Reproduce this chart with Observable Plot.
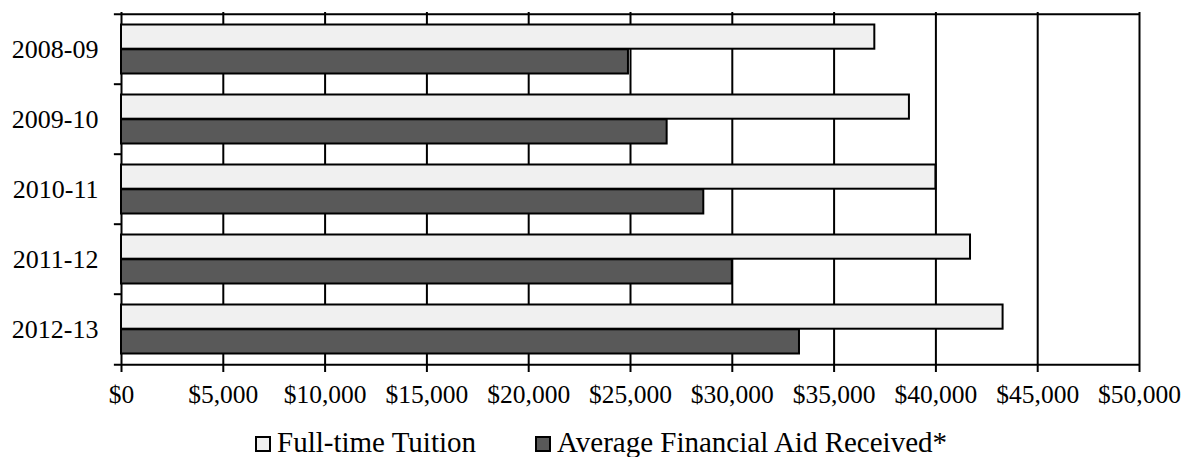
<!DOCTYPE html>
<html>
<head>
<meta charset="utf-8">
<script src="https://cdn.jsdelivr.net/npm/d3@7"></script>
<script src="https://cdn.jsdelivr.net/npm/@observablehq/plot@0.6"></script>
<style>
  html, body { margin: 0; padding: 0; background: #fff; }
  body { width: 1189px; height: 457px; overflow: hidden; }
</style>
</head>
<body>
<div id="chart"></div>
<div id="legend" style="position:absolute;left:0;top:427px;width:1189px;height:30px;"></div>
<script>
const years = ["2008-09", "2009-10", "2010-11", "2011-12", "2012-13"];
const tuition = [37000, 38700, 40000, 41700, 43300];
const aid = [24900, 26800, 28600, 30000, 33300];
const xTicks = [0, 5000, 10000, 15000, 20000, 25000, 30000, 35000, 40000, 45000, 50000];
const seriesNames = ["Full-time Tuition", "Average Financial Aid Received*"];
const seriesColors = ["#f0f0f0", "#595959"];

const W = 1189, H = 415, mT = 12, mB = 50, mL = 121, mR = 50;
const bw = (H - mT - mB) / years.length;
const padOuter = 10.5;
const FONT = "'Liberation Serif', 'Times New Roman', serif";

const tuitionData = years.map((y, i) => ({year: y, value: tuition[i]}));
const aidData = years.map((y, i) => ({year: y, value: aid[i]}));
const fmt = d => "$" + d3.format(",")(d);

const chart = Plot.plot({
  width: W, height: H,
  marginTop: mT, marginBottom: mB, marginLeft: mL, marginRight: mR,
  style: {fontSize: "25px", color: "#000", background: "#fff"},
  x: {domain: [0, 50000]},
  y: {domain: years, padding: 0},
  marks: [
    Plot.ruleX(xTicks, {stroke: "#000", strokeWidth: 2}),
    Plot.ruleY(years, {y: d => d, dy: -bw / 2, x1: -350, x2: d => d === years[0] ? 50000 : 0, stroke: "#000", strokeWidth: 2}),
    Plot.ruleY([years[years.length - 1]], {y: d => d, dy: bw / 2, x1: -350, x2: 50000, stroke: "#000", strokeWidth: 2}),
    Plot.barX(tuitionData, {y: "year", x: "value", fill: seriesColors[0], stroke: "#000", strokeWidth: 2, insetTop: padOuter, insetBottom: bw / 2}),
    Plot.barX(aidData, {y: "year", x: "value", fill: seriesColors[1], stroke: "#000", strokeWidth: 2, insetTop: bw / 2, insetBottom: padOuter}),
    Plot.axisX({ticks: xTicks, tickFormat: fmt, tickSize: 7, tickPadding: 12, stroke: "#000", strokeWidth: 2, fontSize: 25.5, label: null}),
    Plot.axisY({tickSize: 0, tickPadding: 23, fontSize: 26, label: null})
  ]
});
chart.setAttribute("font-family", FONT);
chart.style.fontFamily = FONT;
chart.querySelectorAll("g, text").forEach(el => {
  el.setAttribute("font-family", FONT);
  el.style.fontFamily = FONT;
});
document.getElementById("chart").appendChild(chart);

const legend = document.getElementById("legend");
const lefts = [255, 535];
seriesNames.forEach((name, i) => {
  const item = document.createElement("div");
  item.setAttribute("style", `position:absolute;top:0;left:${lefts[i]}px;height:30px;display:flex;align-items:center;font-family:${FONT};font-size:29px;line-height:30px;color:#000;white-space:nowrap;`);
  const sw = document.createElement("span");
  sw.setAttribute("style", `display:inline-block;width:12px;height:12px;border:2px solid #000;margin-right:6px;position:relative;top:2px;background:${seriesColors[i]};`);
  item.appendChild(sw);
  item.appendChild(document.createTextNode(name));
  legend.appendChild(item);
});
</script>
</body>
</html>
